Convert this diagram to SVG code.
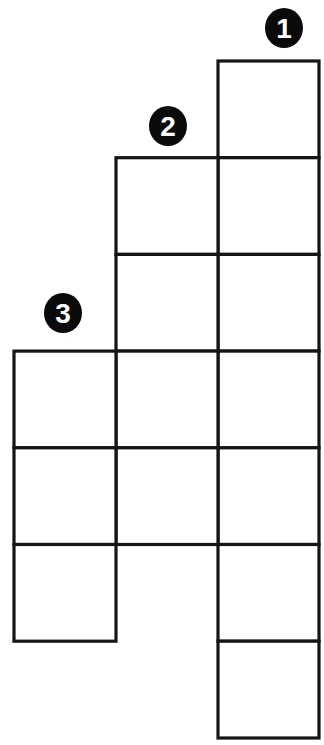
<svg xmlns="http://www.w3.org/2000/svg" width="324" height="745" viewBox="0 0 324 745">
<style>
.cell{fill:#ffffff;stroke:#151515;stroke-width:3.2}
.badge{fill:#0a0a0a}
.num{fill:#ffffff;font-family:"Liberation Sans",Arial,sans-serif;font-weight:bold;font-size:28px;text-anchor:middle}
</style>
<rect width="324" height="745" fill="#ffffff"/>
<g id="column1">
<rect class="cell" x="218" y="61" width="101" height="96.7"/>
<rect class="cell" x="218" y="157.7" width="101" height="96.7"/>
<rect class="cell" x="218" y="254.4" width="101" height="96.7"/>
<rect class="cell" x="218" y="351.1" width="101" height="96.7"/>
<rect class="cell" x="218" y="447.8" width="101" height="96.7"/>
<rect class="cell" x="218" y="544.5" width="101" height="96.7"/>
<rect class="cell" x="218" y="641.2" width="101" height="96.8"/>
</g>
<g id="column2">
<rect class="cell" x="116" y="157.7" width="102" height="96.7"/>
<rect class="cell" x="116" y="254.4" width="102" height="96.7"/>
<rect class="cell" x="116" y="351.1" width="102" height="96.7"/>
<rect class="cell" x="116" y="447.8" width="102" height="96.7"/>
</g>
<g id="column3">
<rect class="cell" x="14" y="351.1" width="102" height="96.7"/>
<rect class="cell" x="14" y="447.8" width="102" height="96.7"/>
<rect class="cell" x="14" y="544.5" width="102" height="96.7"/>
</g>
<g id="label1">
<ellipse class="badge" cx="284" cy="28" rx="19" ry="20"/>
<text class="num" x="284" y="38">1</text>
</g>
<g id="label2">
<ellipse class="badge" cx="168" cy="126" rx="19" ry="20"/>
<text class="num" x="168" y="136">2</text>
</g>
<g id="label3">
<ellipse class="badge" cx="63" cy="313" rx="19" ry="20"/>
<text class="num" x="63" y="323">3</text>
</g>
</svg>
